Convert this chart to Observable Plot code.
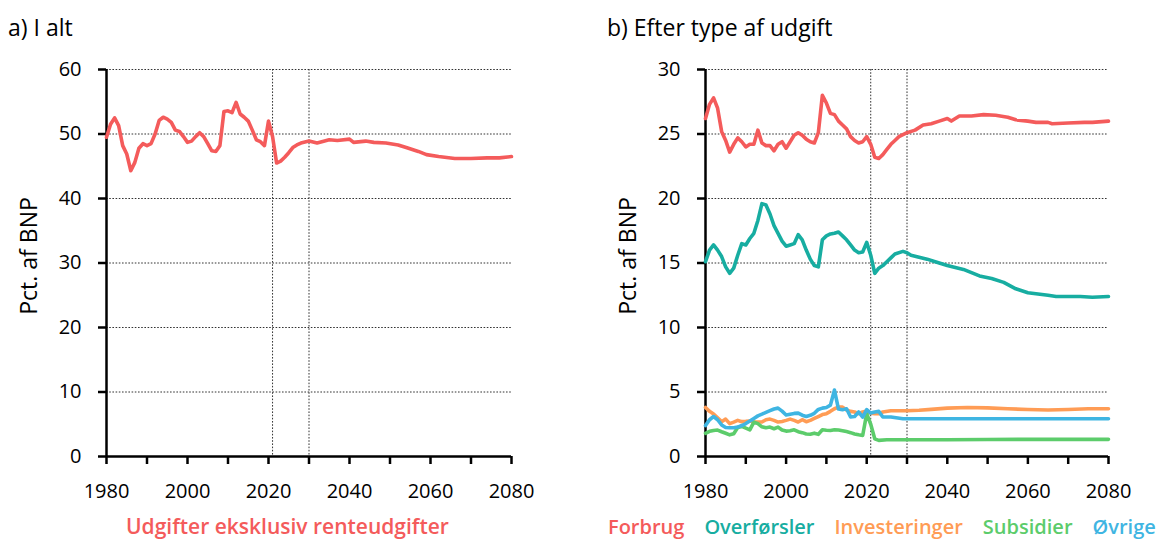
<!DOCTYPE html>
<html><head><meta charset="utf-8">
<script src="https://cdn.jsdelivr.net/npm/d3@7"></script>
<script src="https://cdn.jsdelivr.net/npm/@observablehq/plot@0.6"></script>
<style>
body{margin:0;background:#fff;font-family:"Open Sans",sans-serif;}
#wrap{position:relative;width:1161px;height:541px;overflow:hidden;background:#fff}
.title{position:absolute;top:12px;font-size:23px;line-height:1.36;color:#000;white-space:nowrap}
.panel{position:absolute;top:50px}
.leg{font-weight:600;white-space:nowrap}
#legL{position:absolute;top:512px;left:126px;display:flex;font-size:21px;line-height:normal}
#legR{position:absolute;top:513px;left:608px;display:flex;gap:20px;font-size:20px;line-height:normal}
</style></head>
<body><div id="wrap">
<div class="title" style="left:8px">a) I alt</div>
<div class="title" style="left:607px">b) Efter type af udgift</div>
<div class="panel" id="left" style="left:0px"></div>
<div class="panel" id="right" style="left:600px"></div>
<div id="legL"></div>
<div id="legR"></div>
</div>
<script>
// ---- data ----
const totalYears = [1980,1981,1982,1983,1984,1985,1986,1987,1988,1989,1990,1991,1992,1993,1994,1995,1996,1997,1998,1999,2000,2001,2002,2003,2004,2005,2006,2007,2008,2009,2010,2011,2012,2013,2014,2015,2016,2017,2018,2019,2020,2021,2022,2023,2024,2025,2026,2027,2028,2030,2032,2035,2037,2040,2041,2044,2046,2049,2052,2054,2057,2059,2062,2066,2070,2074,2077,2080];
const totalValues = [49.5,51.5,52.5,51.3,48.2,46.9,44.3,45.6,47.8,48.5,48.2,48.5,50.0,52.1,52.6,52.3,51.8,50.6,50.4,49.6,48.7,48.9,49.6,50.2,49.6,48.5,47.4,47.3,48.2,53.5,53.6,53.3,54.9,53.1,52.6,52.0,50.6,49.1,48.8,48.2,52.0,49.6,45.5,45.8,46.4,47.1,47.9,48.3,48.6,48.9,48.6,49.1,49.0,49.2,48.7,48.9,48.7,48.6,48.3,47.9,47.3,46.8,46.5,46.2,46.2,46.3,46.3,46.5];

const forbrugYears = [1980,1981,1982,1983,1984,1985,1986,1987,1988,1989,1990,1991,1992,1993,1994,1995,1996,1997,1998,1999,2000,2001,2002,2003,2004,2005,2006,2007,2008,2009,2010,2011,2012,2013,2014,2015,2016,2017,2018,2019,2020,2021,2022,2023,2024,2025,2026,2027,2028,2030,2032,2034,2036,2038,2040,2041,2043,2046,2049,2052,2055,2057,2060,2062,2065,2066,2070,2074,2076,2080];
const forbrugValues = [26.2,27.3,27.8,27.0,25.2,24.5,23.6,24.2,24.7,24.4,24.0,24.2,24.2,25.3,24.3,24.1,24.1,23.7,24.2,24.4,23.9,24.4,24.9,25.1,24.9,24.6,24.4,24.3,25.1,28.0,27.4,26.6,26.5,26.0,25.7,25.4,24.8,24.5,24.3,24.4,24.8,24.2,23.2,23.1,23.4,23.8,24.2,24.5,24.8,25.1,25.3,25.7,25.8,26.0,26.2,26.0,26.4,26.4,26.5,26.45,26.3,26.1,26.0,25.9,25.9,25.8,25.85,25.9,25.9,26.0];

const overfYears = [1980,1981,1982,1983,1984,1985,1986,1987,1988,1989,1990,1991,1992,1993,1994,1995,1996,1997,1998,1999,2000,2001,2002,2003,2004,2005,2006,2007,2008,2009,2010,2011,2012,2013,2014,2015,2016,2017,2018,2019,2020,2021,2022,2023,2024,2025,2026,2027,2029,2030,2031,2033,2035,2037,2040,2044,2048,2051,2054,2057,2060,2065,2067,2073,2076,2080];
const overfValues = [15.1,16.0,16.4,16.0,15.5,14.7,14.2,14.6,15.6,16.5,16.4,16.9,17.3,18.3,19.6,19.5,18.8,17.9,17.3,16.7,16.3,16.4,16.5,17.2,16.8,16.0,15.3,14.8,14.7,16.8,17.1,17.25,17.3,17.4,17.1,16.8,16.4,16.0,15.8,15.85,16.6,15.6,14.2,14.6,14.8,15.1,15.4,15.7,15.9,15.8,15.6,15.45,15.3,15.1,14.8,14.5,14.0,13.8,13.5,13.0,12.7,12.5,12.4,12.4,12.35,12.4];

const investYears = [1980,1981,1982,1983,1984,1985,1986,1987,1988,1989,1990,1991,1992,1993,1994,1995,1996,1997,1998,1999,2000,2001,2002,2003,2004,2005,2006,2007,2008,2009,2010,2011,2012,2013,2014,2015,2016,2017,2018,2019,2020,2021,2022,2023,2024,2026,2030,2033,2036,2040,2045,2050,2055,2060,2065,2070,2075,2080];
const investValues = [3.8,3.5,3.3,3.0,2.7,2.9,2.55,2.67,2.8,2.7,2.72,2.75,2.68,2.67,2.67,2.85,2.9,2.8,2.67,2.72,2.8,2.9,2.8,2.67,2.85,2.7,2.8,2.95,3.1,3.25,3.32,3.5,3.7,3.83,3.83,3.6,3.5,3.45,3.32,3.45,3.52,3.35,3.32,3.31,3.45,3.55,3.55,3.58,3.65,3.75,3.8,3.77,3.7,3.64,3.6,3.64,3.7,3.7];

const subsYears = [1980,1981,1982,1983,1984,1985,1986,1987,1988,1989,1990,1991,1992,1993,1994,1995,1996,1997,1998,1999,2000,2001,2002,2003,2004,2005,2006,2007,2008,2009,2010,2011,2012,2013,2014,2015,2016,2017,2018,2019,2020,2021,2022,2023,2025,2030,2040,2050,2060,2070,2080];
const subsValues = [1.8,1.95,2.02,2.05,1.92,1.8,1.68,1.76,2.25,2.33,2.2,2.07,2.67,2.55,2.3,2.23,2.28,2.15,2.28,2.05,1.97,2.0,2.07,1.92,1.85,1.75,1.73,1.81,1.72,2.07,2.03,2.02,2.07,2.05,2.0,1.93,1.85,1.75,1.68,1.63,3.32,2.5,1.37,1.25,1.3,1.3,1.3,1.32,1.33,1.33,1.33];

const oevrigeYears = [1980,1981,1982,1983,1984,1985,1986,1987,1988,1989,1990,1991,1992,1993,1994,1995,1996,1997,1998,1999,2000,2001,2002,2003,2004,2005,2006,2007,2008,2009,2010,2011,2012,2013,2014,2015,2016,2017,2018,2019,2020,2021,2022,2023,2024,2026,2029,2035,2040,2050,2060,2070,2080];
const oevrigeValues = [2.4,2.85,3.1,2.85,2.45,2.25,2.23,2.23,2.28,2.4,2.55,2.75,2.95,3.15,3.28,3.42,3.55,3.68,3.75,3.52,3.22,3.28,3.34,3.36,3.2,3.1,3.19,3.35,3.65,3.75,3.8,3.98,5.15,3.68,3.63,3.7,3.06,3.1,3.45,3.06,3.63,3.37,3.45,3.5,3.06,3.06,2.93,2.93,2.93,2.93,2.93,2.93,2.93];

const leftSeries = [{name:"Udgifter eksklusiv renteudgifter", years: totalYears, values: totalValues, color:"#f45b5b"}];
const rightSeries = [
  {name:"Forbrug", years: forbrugYears, values: forbrugValues, color:"#f45b5b"},
  {name:"Overførsler", years: overfYears, values: overfValues, color:"#17ada1"},
  {name:"Investeringer", years: investYears, values: investValues, color:"#ff9c55"},
  {name:"Subsidier", years: subsYears, values: subsValues, color:"#5ccc6b"},
  {name:"Øvrige", years: oevrigeYears, values: oevrigeValues, color:"#3fb5e2"}
];
const yLabel = "Pct. af BNP";
const xTicks = d3.range(1980, 2081, 10);
const markerYears = [2021, 2030];

function makePanel(series, yMax, yStep, width, mLeft, mRight, tickPad) {
  const yTicks = d3.range(0, yMax + 0.001, yStep);
  const marks = [
    Plot.ruleY(yTicks.filter(d => d > 0), {stroke:"#333", strokeWidth:1, strokeDasharray:"1.6,1.6"}),
    Plot.ruleX(markerYears, {stroke:"#333", strokeWidth:1, strokeDasharray:"1.6,1.6"}),
    Plot.axisX({ticks: xTicks, tickSize: 8, tickPadding: 19, strokeWidth: 2.5,
      tickFormat: d => d % 20 === 0 ? String(d) : "", label: null, fill:"#000"}),
    Plot.axisY({ticks: yTicks, tickSize: 8, tickPadding: tickPad, strokeWidth: 2.5, label: null, fill:"#000"}),
    Plot.text([yLabel], {text: d => d, frameAnchor: "left", rotate: -90, dx: -77, dy: -7,
      fontSize: 23, fill: "#000", textAnchor: "middle", lineAnchor: "middle"}),
    Plot.ruleY([0], {stroke:"#000", strokeWidth:2.5}),
    Plot.ruleX([1980], {stroke:"#000", strokeWidth:2.5})
  ];
  for (const s of series) {
    const data = s.years.map((y, i) => ({year: y, value: s.values[i]}));
    marks.push(Plot.line(data, {x:"year", y:"value", stroke: s.color, strokeWidth: 3.6, curve:"linear"}));
  }
  return Plot.plot({
    width, height: 460,
    marginLeft: mLeft, marginRight: mRight, marginTop: 19, marginBottom: 54,
    style: {fontFamily: "'Open Sans', sans-serif", fontSize: "20px", color: "#000", background: "transparent", overflow: "visible"},
    x: {domain: [1980, 2080]},
    y: {domain: [0, yMax]},
    marks
  });
}

document.getElementById("left").appendChild(makePanel(leftSeries, 60, 10, 580, 106, 69, 17));
document.getElementById("right").appendChild(makePanel(rightSeries, 30, 5, 561, 105, 53, 17));

function addLegend(id, series) {
  const box = document.getElementById(id);
  for (const s of series) {
    const el = document.createElement("div");
    el.className = "leg";
    el.style.color = s.color;
    el.textContent = s.name;
    box.appendChild(el);
  }
}
addLegend("legL", leftSeries);
addLegend("legR", rightSeries);
</script>
</body></html>
